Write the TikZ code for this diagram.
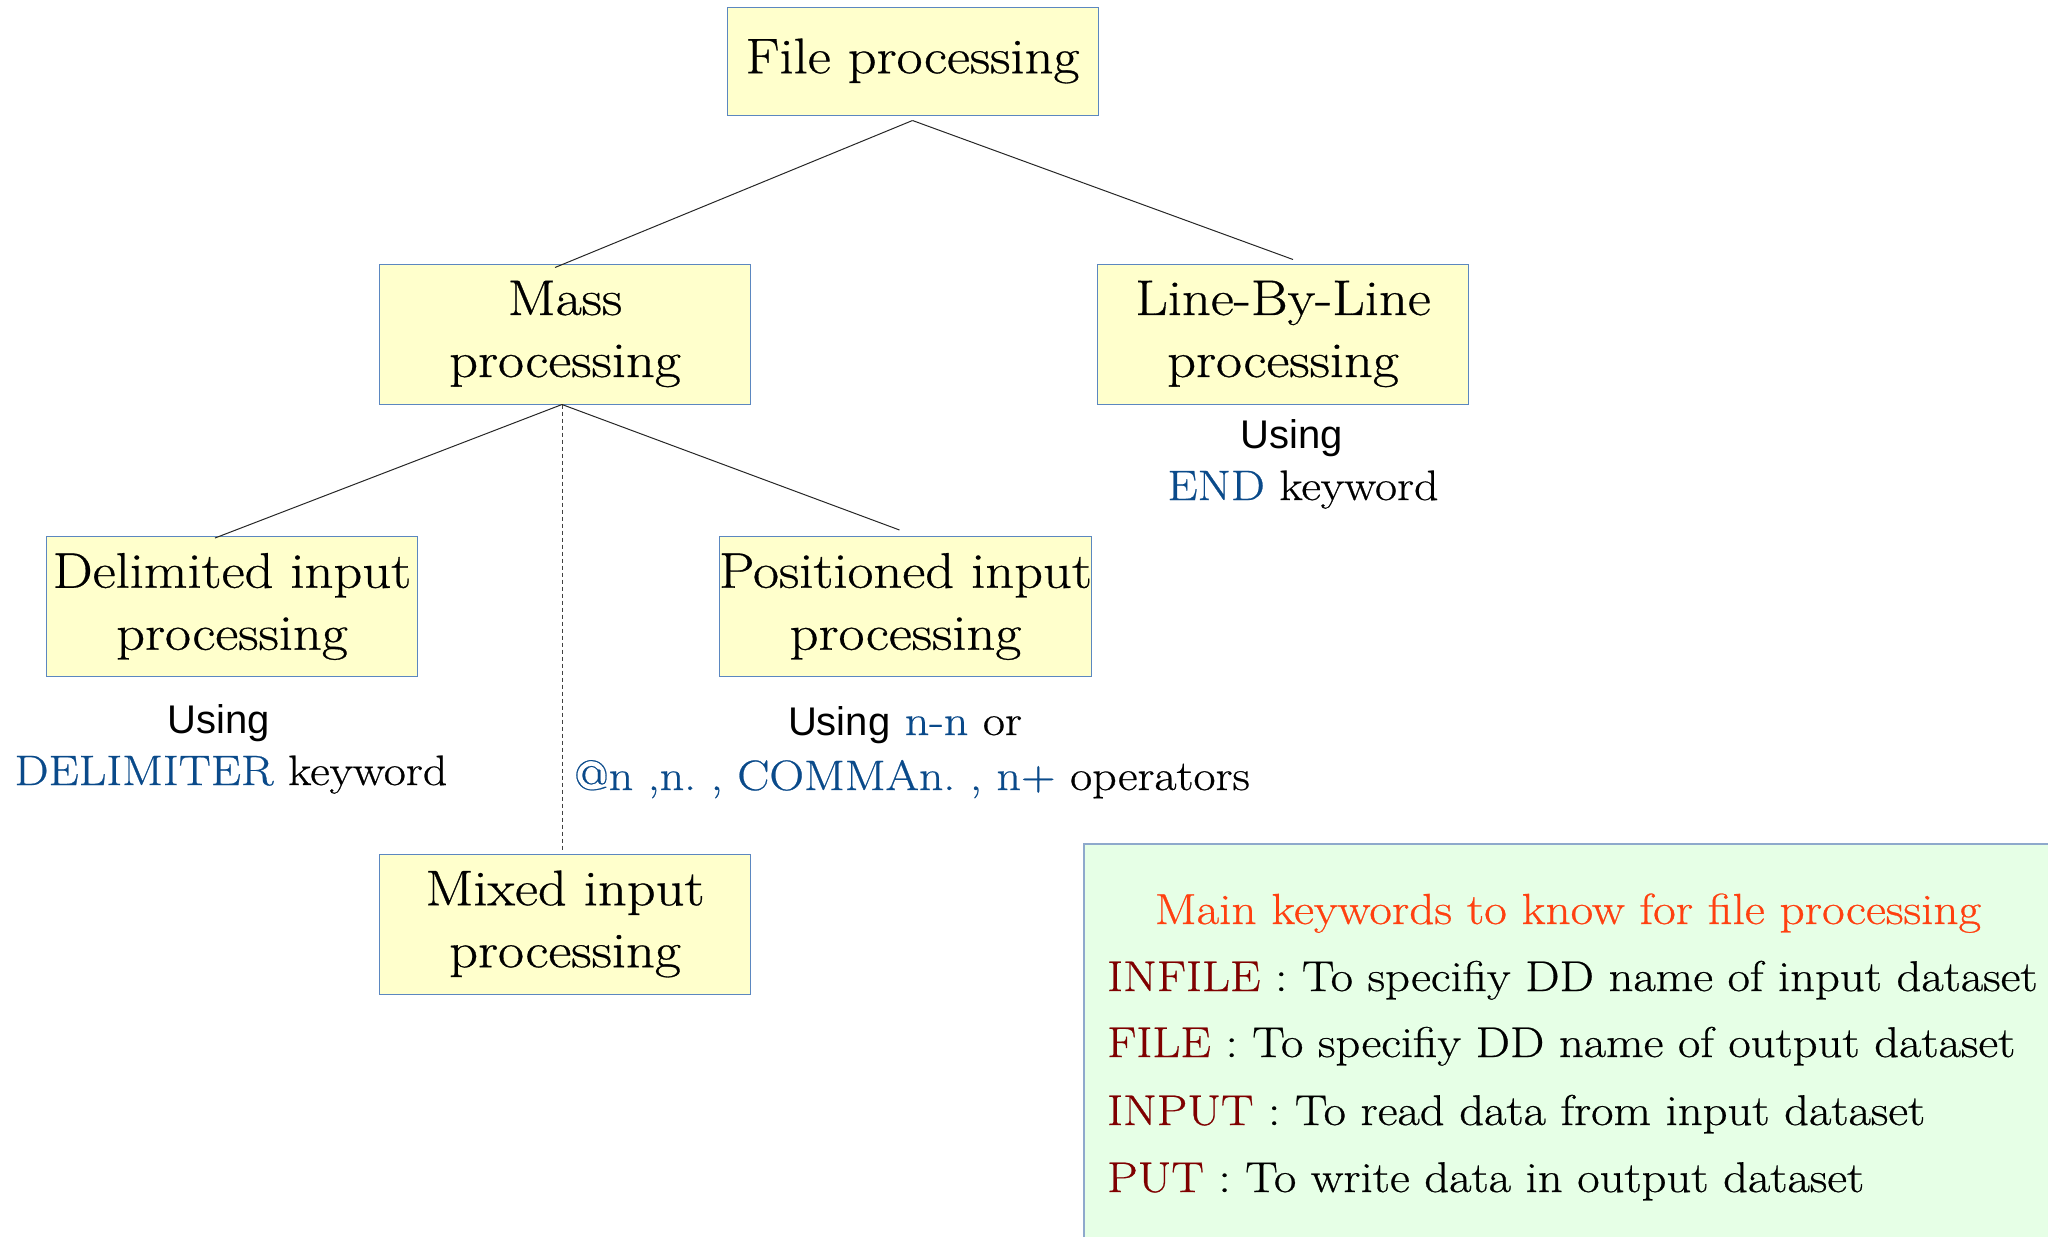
\documentclass[tikz,border=0pt]{standalone}
\usepackage{fontspec}
\setmainfont{Latin Modern Roman}[FakeStretch=1.13, FakeBold=0.6]
\newfontfamily\usingfont{Liberation Sans}
\definecolor{boxfill}{HTML}{FFFFCC}
\definecolor{boxline}{HTML}{5B87C0}
\definecolor{kwblue}{HTML}{0A4A8A}
\definecolor{kwred}{HTML}{7F0000}
\definecolor{titleorange}{HTML}{FF4010}
\definecolor{legendbg}{HTML}{E6FFE6}
\definecolor{legendline}{HTML}{8EA9CC}
\tikzset{
  procbox/.style={draw=boxline, fill=boxfill, line width=1pt, inner sep=0pt,
    minimum width=371pt, minimum height=140pt, align=center,
    font=\fontsize{50}{62}\selectfont},
  conn/.style={line width=1pt, black!85},
  dashconn/.style={line width=1pt, black!75, dash pattern=on 4pt off 3pt},
  usingtxt/.style={anchor=base, inner sep=0pt, font=\usingfont\fontsize{40}{48}\selectfont},
  kwtxt/.style={anchor=base, inner sep=0pt, font=\fontsize{42.5}{50}\selectfont},
  legtxt/.style={anchor=base west, inner sep=0pt, font=\fontsize{43}{52}\selectfont},
}
\begin{document}
\frenchspacing
\begin{tikzpicture}[x=1pt, y=-1pt]
\path[use as bounding box] (0,0) rectangle (2048,1237);
% legend background
\fill[legendbg] (1084,844) rectangle (2048,1237);
\draw[legendline, line width=1.2pt] (1084,1237) -- (1084,844) -- (2048,844);
% boxes
\node[procbox, minimum height=108pt] (file) at (912.5,61) {\raisebox{-3pt}{File processing}};
\node[procbox] (mass) at (565,334) {Mass\\processing};
\node[procbox] (lbl) at (1283,334) {Line-By-Line\\processing};
\node[procbox] (delim) at (232,606.5) {Delimited input\\processing};
\node[procbox] (pos) at (905.5,606.5) {Positioned input\\processing};
\node[procbox] (mixed) at (565,924) {Mixed input\\processing};
% connectors
\draw[conn] ([yshift=-5pt]file.south) -- ([xshift=-10pt,yshift=-4pt]mass.north);
\draw[conn] ([yshift=-5pt]file.south) -- ([xshift=10pt,yshift=4pt]lbl.north);
\draw[conn] ([xshift=-3pt]mass.south) -- ([xshift=-17pt,yshift=-2pt]delim.north);
\draw[conn] ([xshift=-3pt]mass.south) -- ([xshift=-6pt,yshift=6pt]pos.north);
\draw[dashconn] ([xshift=-3pt]mass.south) -- ([xshift=-3pt,yshift=2pt]mixed.north);
% annotations
\node[usingtxt] (u1) at (219,733) {Using};
\node[kwtxt] (k1) at (231,785) {\textcolor{kwblue}{DELIMITER} keyword};
\node[usingtxt] (u2) at (1292,448) {Using};
\node[kwtxt] (k2) at (1303,500) {\textcolor{kwblue}{END} keyword};
\node[kwtxt] (u3) at (905,735) {{\usingfont\fontsize{40}{48}\selectfont Using} \textcolor{kwblue}{n-n} or};
\node[kwtxt] (k3) at (912,790) {\textcolor{kwblue}{@n ,n. , COMMAn. , n+} operators};
% legend text
\node[anchor=base, inner sep=0pt, font=\fontsize{43.5}{52}\selectfont, text=titleorange] (ltitle) at (1568,924) {Main keywords to know for file processing};
\node[legtxt] (l1) at (1107,991) {\textcolor{kwred}{INFILE} : To specifiy DD name of input dataset};
\node[legtxt] (l2) at (1107,1057) {\textcolor{kwred}{FILE} : To specifiy DD name of output dataset};
\node[legtxt] (l3) at (1107,1125) {\textcolor{kwred}{INPUT} : To read data from input dataset};
\node[legtxt] (l4) at (1107,1192) {\textcolor{kwred}{PUT} : To write data in output dataset};
\end{tikzpicture}
\end{document}
